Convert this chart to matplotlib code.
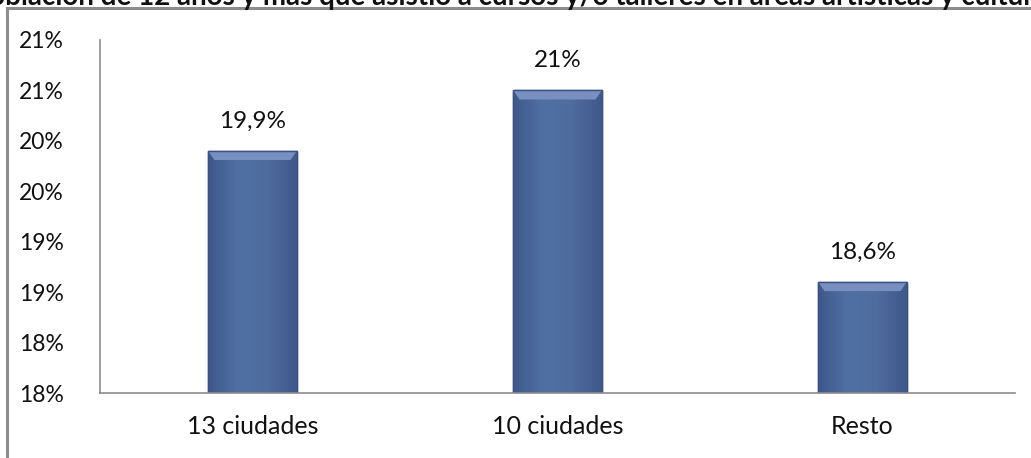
import matplotlib
matplotlib.use("Agg")
import numpy as np
import matplotlib.pyplot as plt
from matplotlib.patches import Polygon
from matplotlib.lines import Line2D
from matplotlib.colors import LinearSegmentedColormap

categories = ["13 ciudades", "10 ciudades", "Resto"]
values = [19.9, 20.5, 18.6]
value_labels = ["19,9%", "21%", "18,6%"]
yticks = [17.5, 18.0, 18.5, 19.0, 19.5, 20.0, 20.5, 21.0]
ytick_labels = ["18%", "18%", "19%", "19%", "20%", "20%", "21%", "21%"]
title = "Población de 12 años y más que asistió a cursos y/o talleres en áreas artísticas y culturales"

plt.rcParams['font.family'] = ['Lato', 'DejaVu Sans']

W, H = 1031, 458
fig = plt.figure(figsize=(W / 100, H / 100), dpi=100)
ax = fig.add_axes([100 / W, 1 - 393 / H, (1015 - 100) / W, (393 - 40) / H])

ymin, ymax = 17.5, 21.0
bw = 0.29
x = list(range(len(categories)))
bars = ax.bar(x, values, width=bw, bottom=0, color="#4D6898",
              edgecolor="#3A5283", linewidth=1.0, zorder=3)

# horizontal shading inside each bar (darker edges, lighter middle)
cmap = LinearSegmentedColormap.from_list(
    "barshade", ["#3F578A", "#5070A3", "#4F6C9E", "#3F578A"])
grad = np.linspace(0, 1, 256).reshape(1, -1)
for b in bars:
    bx, bwid, bh = b.get_x(), b.get_width(), b.get_height()
    im = ax.imshow(grad, cmap=cmap, aspect="auto",
                   extent=(bx, bx + bwid, ymin, bh), zorder=3.5)
    im.set_clip_path(b)
    # top bevel
    dx, dy = bwid * 0.07, 0.09
    ax.add_patch(Polygon([(bx, bh), (bx + bwid, bh), (bx + bwid - dx, bh - dy),
                          (bx + dx, bh - dy)], closed=True,
                         facecolor="#7890C0", edgecolor="none", zorder=4))
    ax.add_patch(Polygon([(bx, bh), (bx + bwid, bh), (bx + bwid, ymin), (bx, ymin)],
                         closed=True, facecolor="none", edgecolor="#3A5283",
                         lw=1.0, zorder=4.5))

ax.set_xlim(-0.5, 2.5)
ax.set_ylim(ymin, ymax)
ax.set_yticks(yticks)
ax.set_yticklabels(ytick_labels, fontsize=16.5, color="#111111")
ax.set_xticks(x)
ax.set_xticklabels(categories, fontsize=18, color="#111111")
ax.tick_params(axis="both", length=0)
ax.tick_params(axis="y", pad=26)
ax.tick_params(axis="x", pad=16)

for s in ["top", "right"]:
    ax.spines[s].set_visible(False)
for s in ["left", "bottom"]:
    ax.spines[s].set_color("#8c8c8c")
    ax.spines[s].set_linewidth(1.2)
    ax.spines[s].set_zorder(5)

for xi, v, lab in zip(x, values, value_labels):
    ax.annotate(lab, (xi, v), xytext=(0, 14), textcoords="offset points",
                ha="center", va="bottom", fontsize=17.5, color="#111111")

# outer chart frame
fig.add_artist(Line2D([7 / W, 7 / W], [0, 1 - 8 / H], transform=fig.transFigure,
                      color="#8c8c8c", lw=2.2))
fig.add_artist(Line2D([7 / W, 1], [1 - 8 / H, 1 - 8 / H], transform=fig.transFigure,
                      color="#8c8c8c", lw=2.2))

# title (partly outside the picture, as in the reference)
fig.text(-28 / W, 1 - 5 / H, title, fontsize=20, fontweight="bold",
         ha="left", va="baseline", color="#111111")

fig.savefig("out.png", dpi=100)
